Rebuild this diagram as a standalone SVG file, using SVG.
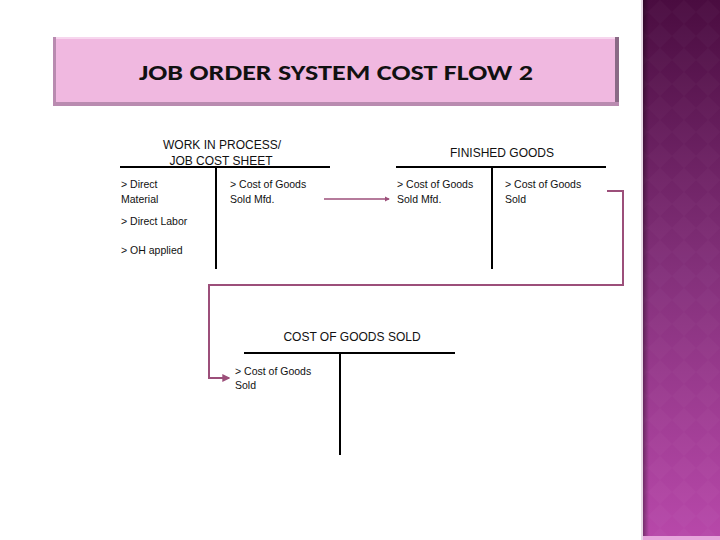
<svg xmlns="http://www.w3.org/2000/svg" width="720" height="540" viewBox="0 0 720 540">
<defs>
<style>
.t{font-family:"Liberation Sans",Arial,sans-serif;font-size:10.5px;fill:#111}
.h{font-family:"Liberation Sans",Arial,sans-serif;font-size:12px;fill:#111;text-anchor:middle}
.ln{stroke:#000;stroke-width:2;fill:none}
.cn{stroke:#9c4f7a;fill:none}
</style>
<linearGradient id="strip" x1="0" y1="0" x2="0" y2="1">
<stop offset="0" stop-color="#4a0c40"/>
<stop offset="0.5" stop-color="#83307a"/>
<stop offset="1" stop-color="#b848aa"/>
</linearGradient>
<linearGradient id="shade" x1="0" y1="0" x2="1" y2="0">
<stop offset="0" stop-color="#000" stop-opacity="0.35"/>
<stop offset="1" stop-color="#000" stop-opacity="0"/>
</linearGradient>
<pattern id="dia" width="24" height="24" patternUnits="userSpaceOnUse">
<path d="M12 0 L24 12 L12 24 L0 12 Z" fill="#fff" fill-opacity="0.018"/>
</pattern>
<marker id="ah" viewBox="0 0 6 6" refX="5" refY="3" markerWidth="4" markerHeight="4" orient="auto">
<path d="M0 0 L6 3 L0 6 Z" fill="#9c4f7a"/>
</marker>
</defs>
<rect width="720" height="540" fill="#fff"/>
<g id="strip-decor">
<rect x="641" y="0" width="2" height="540" fill="#e8d8e6"/>
<rect x="643" y="0" width="77" height="540" fill="url(#strip)"/>
<rect x="643" y="0" width="77" height="540" fill="url(#dia)"/>
<rect x="643" y="0" width="6" height="540" fill="url(#shade)"/>
<rect x="643" y="536" width="77" height="4" fill="#e7a6dc"/>
</g>
<g id="title">
<rect x="53" y="37" width="566" height="69" fill="#f0b8e0"/>
<rect x="53" y="37" width="566" height="2" fill="#f7d6ee"/>
<rect x="53" y="37" width="3" height="69" fill="#b98bb0"/>
<rect x="615" y="37" width="4" height="69" fill="#8a6a86"/>
<rect x="53" y="102" width="566" height="4" fill="#b98bb0"/>
<text x="336" y="80" font-family="Calibri,'Liberation Sans',Arial,sans-serif" font-size="23" font-weight="bold" text-anchor="middle" textLength="394" lengthAdjust="spacingAndGlyphs" fill="#111">JOB ORDER SYSTEM COST FLOW 2</text>
</g>
<g id="wip">
<text class="h" x="222" y="149">WORK IN PROCESS/</text>
<text class="h" x="221" y="165">JOB COST SHEET</text>
<line class="ln" x1="120" y1="167" x2="330" y2="167"/>
<line class="ln" x1="216" y1="167" x2="216" y2="269"/>
<text class="t" x="121" y="188">&gt; Direct</text>
<text class="t" x="121" y="203">Material</text>
<text class="t" x="121" y="225">&gt; Direct Labor</text>
<text class="t" x="121" y="254">&gt; OH applied</text>
<text class="t" x="230" y="188">&gt; Cost of Goods</text>
<text class="t" x="230" y="203">Sold Mfd.</text>
</g>
<g id="fg">
<text class="h" x="502" y="157">FINISHED GOODS</text>
<line class="ln" x1="396" y1="167" x2="606" y2="167"/>
<line class="ln" x1="492" y1="167" x2="492" y2="269"/>
<text class="t" x="397" y="188">&gt; Cost of Goods</text>
<text class="t" x="397" y="203">Sold Mfd.</text>
<text class="t" x="505" y="188">&gt; Cost of Goods</text>
<text class="t" x="505" y="203">Sold</text>
</g>
<g id="cogs">
<text class="h" x="352" y="341">COST OF GOODS SOLD</text>
<line class="ln" x1="244" y1="353" x2="455" y2="353"/>
<line class="ln" x1="340" y1="353" x2="340" y2="455"/>
<text class="t" x="235" y="375">&gt; Cost of Goods</text>
<text class="t" x="235" y="389">Sold</text>
</g>
<g id="connectors">
<line class="cn" stroke-width="1.3" x1="324" y1="199" x2="389" y2="199" marker-end="url(#ah)"/>
<polyline class="cn" stroke-width="2" points="607,191 623,191 623,285 209,285 209,378 229,378" marker-end="url(#ah)"/>
</g>
</svg>
